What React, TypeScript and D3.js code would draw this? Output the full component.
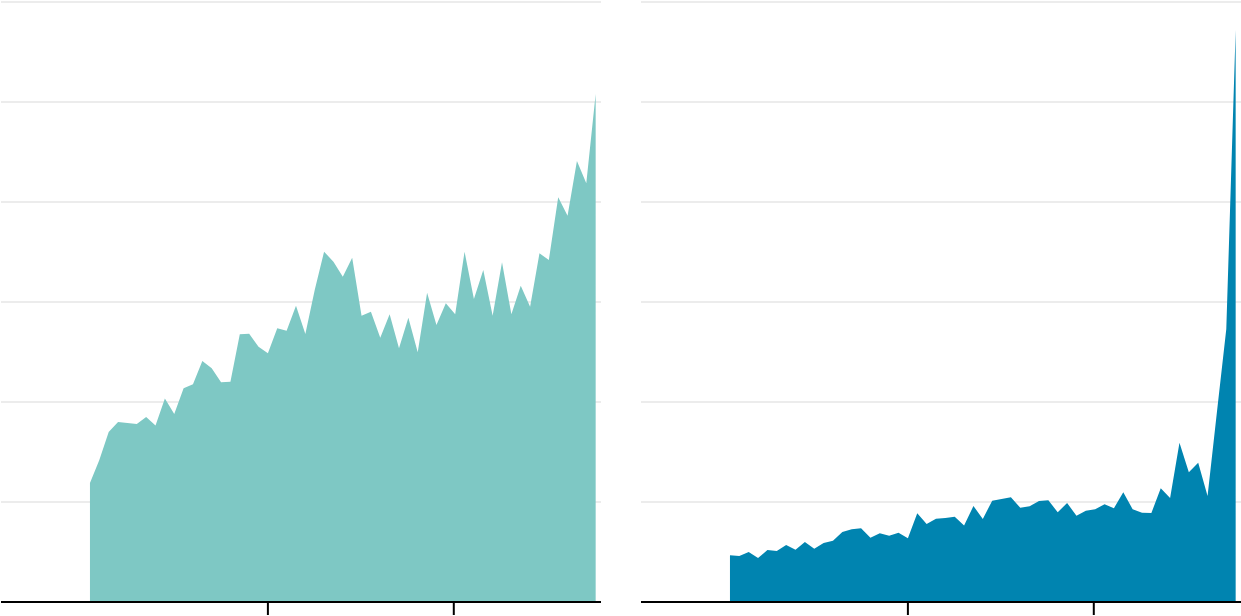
import React from "react";
import * as d3 from "d3";

const leftValues: number[] = [
  11.9, 14.2, 17.0, 18.0, 17.9, 17.8, 18.5, 17.65, 20.35, 18.8,
  21.37, 21.77, 24.1, 23.37, 21.97, 22.03, 26.77, 26.83, 25.53, 24.87,
  27.37, 27.13, 29.63, 26.8, 31.2, 35.03, 34.03, 32.53, 34.43, 28.63,
  29.03, 26.43, 28.77, 25.37, 28.43, 24.97, 30.93, 27.7, 29.87, 28.77,
  35.03, 30.3, 33.2, 28.63, 33.97, 28.77, 31.63, 29.53, 34.87, 34.2,
  40.47, 38.63, 44.1, 41.87, 50.8,
];

const rightValues: number[] = [
  4.67, 4.6, 5.0, 4.4, 5.2, 5.1, 5.7, 5.23, 6.0, 5.33,
  5.9, 6.13, 7.0, 7.27, 7.37, 6.43, 6.87, 6.63, 6.93, 6.37,
  8.87, 7.8, 8.33, 8.4, 8.53, 7.65, 9.6, 8.3, 10.13, 10.3,
  10.47, 9.43, 9.57, 10.1, 10.17, 8.97, 9.9, 8.63, 9.13, 9.27,
  9.77, 9.37, 10.97, 9.27, 8.93, 8.9, 11.37, 10.4, 15.93, 12.97,
  13.93, 10.6, 19.0, 27.3, 57.2,
];

const yGridValues: number[] = [10, 20, 30, 40, 50, 60];
const xTickValues: number[] = [19, 38.85];
const xDomain: [number, number] = [-9.5, 54.57];
const yDomain: [number, number] = [0, 60];

const panels = [
  { values: leftValues, color: "#7ec8c4", offset: 1 },
  { values: rightValues, color: "#0084b0", offset: 641 },
];

const W = 1241;
const H = 616;
const PW = 600;

function Panel({ values, color, offset }: { values: number[]; color: string; offset: number }) {
  const x = d3.scaleLinear().domain(xDomain).range([0, PW]);
  const y = d3.scaleLinear().domain(yDomain).range([602, 2]);
  const area = d3
    .area<number>()
    .x((_, i) => x(i))
    .y0(y(0))
    .y1((d) => y(d));
  return (
    <g transform={`translate(${offset},0)`}>
      {yGridValues.map((v) => (
        <line key={v} x1={0} x2={PW} y1={y(v)} y2={y(v)} stroke="#e6e6e6" strokeWidth={1.6} />
      ))}
      <path d={area(values) || ""} fill={color} />
      <line x1={0} x2={PW} y1={y(0)} y2={y(0)} stroke="#000" strokeWidth={2} />
      {xTickValues.map((t) => (
        <line key={t} x1={x(t)} x2={x(t)} y1={y(0)} y2={y(0) + 13} stroke="#000" strokeWidth={2} />
      ))}
    </g>
  );
}

export default function App() {
  return (
    <svg
      width={W}
      height={H}
      style={{ position: "absolute", left: 0, top: 0, background: "#fff" }}
    >
      {panels.map((p, i) => (
        <Panel key={i} values={p.values} color={p.color} offset={p.offset} />
      ))}
    </svg>
  );
}
